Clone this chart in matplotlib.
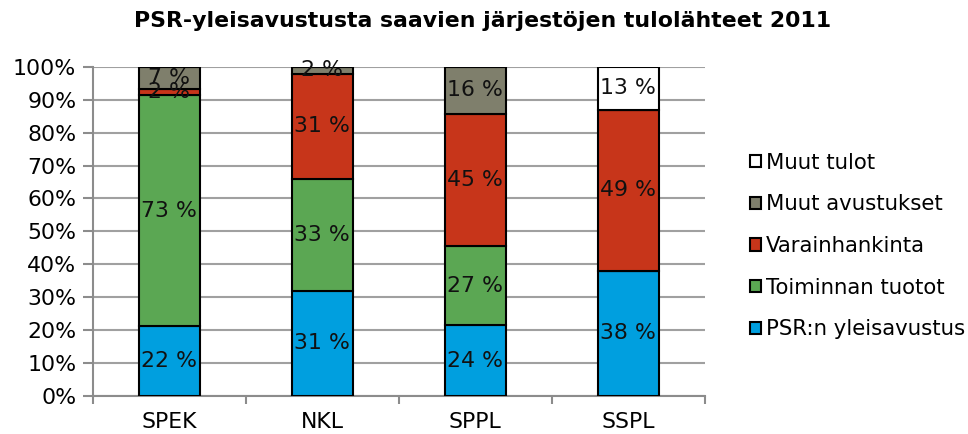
import numpy as np
import matplotlib

matplotlib.use("Agg")
import matplotlib.pyplot as plt

categories = ["SPEK", "NKL", "SPPL", "SSPL"]
series = ["PSR:n yleisavustus", "Toiminnan tuotot", "Varainhankinta",
          "Muut avustukset", "Muut tulot"]
# label values as printed on the chart (percent)
psr = [22, 31, 24, 38]
toiminta = [73, 33, 27, 0]
varainhankinta = [2, 31, 45, 49]
muut_avustukset = [7, 2, 16, 0]
muut_tulot = [0, 0, 0, 13]

colors = ["#009fdf", "#5ba753", "#c7351a", "#7f7f6c", "#ffffff"]

plt.rcParams["font.family"] = "DejaVu Sans"
FS = 15.8

data = np.array([psr, toiminta, varainhankinta, muut_avustukset, muut_tulot], dtype=float)
share = data / data.sum(axis=0) * 100  # 100 % stacked

fig = plt.figure(figsize=(9.68, 4.34), dpi=100)
ax = fig.add_axes([0.096, 0.088, 0.632, 0.758])

x = np.arange(len(categories))
bottom = np.zeros(len(categories))
handles = []
for i, name in enumerate(series):
    h = ax.bar(x, share[i], 0.4, bottom=bottom, color=colors[i],
               edgecolor="black", linewidth=1.5, label=name, zorder=3)
    handles.append(h)
    for j in range(len(categories)):
        if data[i, j] > 0:
            ax.text(x[j], bottom[j] + share[i, j] / 2, f"{int(data[i, j])} %",
                    ha="center", va="center", fontsize=FS, color="#111111", zorder=4)
    bottom += share[i]

ax.set_xlim(-0.5, len(categories) - 0.5)
ax.set_ylim(0, 100)
ax.set_yticks(np.arange(0, 101, 10))
ax.set_yticklabels([f"{v}%" for v in range(0, 101, 10)], fontsize=FS)
ax.set_xticks(x)
ax.set_xticklabels(categories, fontsize=FS)
ax.set_xticks(np.arange(-0.5, len(categories)), minor=True)
ax.tick_params(axis="x", which="major", length=0, pad=12)
ax.tick_params(axis="x", which="minor", length=6, color="#8c8c8c", width=1.5, direction="out")
ax.tick_params(axis="y", length=7, color="#8c8c8c", width=1.5, pad=5)
ax.yaxis.grid(True, color="#a0a0a0", linewidth=1.5, zorder=0)
for s in ["top", "right"]:
    ax.spines[s].set_visible(False)
for s in ["left", "bottom"]:
    ax.spines[s].set_color("#8c8c8c")
    ax.spines[s].set_linewidth(1.5)

leg = fig.legend(handles[::-1], series[::-1], loc="center left",
                 bbox_to_anchor=(0.766, 0.433), frameon=False, fontsize=15.3,
                 handlelength=0.5, handleheight=0.5, handletextpad=0.25,
                 labelspacing=1.02, borderaxespad=0)

fig.suptitle("PSR-yleisavustusta saavien järjestöjen tulolähteet 2011",
             fontsize=15.8, fontweight="bold", x=0.498, y=0.975)

fig.savefig("out.png", dpi=100)
